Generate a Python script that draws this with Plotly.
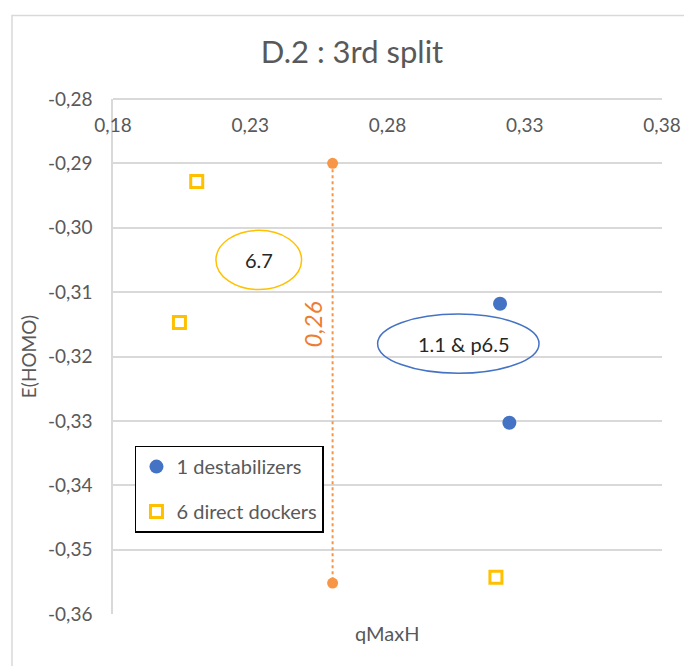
import plotly.graph_objects as go

# ---- data ----
destab_x = [0.3210, 0.3244]
destab_y = [-0.3118, -0.3303]
docker_x = [0.2105, 0.2042, 0.3195]
docker_y = [-0.2928, -0.3147, -0.3543]
split_x = [0.26, 0.26]
split_y = [-0.29, -0.3552]
split_label = "0,26"
x_ticks = [0.18, 0.23, 0.28, 0.33, 0.38]
y_ticks = [-0.28, -0.29, -0.30, -0.31, -0.32, -0.33, -0.34, -0.35, -0.36]
x_ticktext = ["0,18", "0,23", "0,28", "0,33", "0,38"]
y_ticktext = ["-0,28", "-0,29", "-0,30", "-0,31", "-0,32", "-0,33", "-0,34", "-0,35", "-0,36"]

FONT = "Lato"
GRAY = "#595959"
GRID = "#d9d9d9"

fig = go.Figure()
fig.add_trace(go.Scatter(
    x=split_x, y=split_y, mode="lines+markers", showlegend=False,
    line=dict(color="#F79646", width=2, dash="dot"),
    marker=dict(color="#F79646", size=11)))
fig.add_trace(go.Scatter(
    x=destab_x, y=destab_y, mode="markers", name="1 destabilizers",
    legendgroup="a",
    marker=dict(color="#4472C4", size=14, symbol="circle")))
fig.add_trace(go.Scatter(
    x=docker_x, y=docker_y, mode="markers", name="6 direct dockers",
    legendgroup="b",
    marker=dict(color="rgba(0,0,0,0)", size=12, symbol="square",
                line=dict(color="#FFC000", width=3))))

shapes = [
    dict(type="circle", xref="x", yref="y", x0=0.2175, x1=0.2487,
         y0=-0.3096, y1=-0.3004, line=dict(color="#FFC000", width=1.5)),
    dict(type="circle", xref="x", yref="y", x0=0.2764, x1=0.3352,
         y0=-0.3226, y1=-0.3134, line=dict(color="#4472C4", width=1.5)),
    dict(type="rect", xref="paper", yref="paper", x0=-0.184, x1=1.3,
         y0=-0.3, y1=1.162, line=dict(color=GRID, width=1.5), layer="below"),
]

annotations = [
    dict(x=0.2331, y=-0.3050, xref="x", yref="y", text="6.7", showarrow=False,
         font=dict(family=FONT, size=20, color="#262626")),
    dict(x=0.3078, y=-0.3180, xref="x", yref="y", text="1.1 & p6.5", showarrow=False,
         font=dict(family=FONT, size=20, color="#262626")),
    dict(x=0.2526, y=-0.3150, xref="x", yref="y", text="<i>" + split_label + "</i>",
         showarrow=False, textangle=-90,
         font=dict(family=FONT, size=24, color="#ED7D31")),
    dict(x=(387 - 113) / 549, y=-(633 - 614) / 515, xref="paper", yref="paper",
         text="qMaxH", showarrow=False, xanchor="center", yanchor="middle",
         font=dict(family=FONT, size=20, color=GRAY)),
]

fig.update_layout(
    width=684, height=666,
    margin=dict(l=113, r=22, t=99, b=52, autoexpand=False),
    paper_bgcolor="white", plot_bgcolor="white",
    font=dict(family=FONT, color=GRAY),
    title=dict(text="D.2 : 3rd split", x=352 / 684, xanchor="center", xref="container",
               y=1 - 52 / 666, yanchor="middle",
               font=dict(family=FONT, size=31, color=GRAY)),
    xaxis=dict(range=[0.18, 0.38], anchor="free", position=1, side="bottom",
               tickvals=x_ticks, ticktext=x_ticktext, ticks="",
               ticklabelstandoff=9, automargin=False,
               showgrid=False, zeroline=False,
               showline=True, linecolor=GRID, linewidth=1.5,
               tickfont=dict(family=FONT, size=19, color=GRAY)),
    yaxis=dict(range=[-0.36, -0.28], tickvals=y_ticks, ticktext=y_ticktext,
               showgrid=True, gridcolor=GRID, gridwidth=1.5, zeroline=False,
               showline=True, linecolor=GRID, linewidth=1.5, automargin=False,
               ticks="", ticklabelstandoff=15,
               tickfont=dict(family=FONT, size=19, color=GRAY),
               title=dict(text="E(HOMO)", standoff=6,
                          font=dict(family=FONT, size=19, color=GRAY))),
    legend=dict(x=0.040, y=0.327, xanchor="left", yanchor="top",
                bordercolor="black", borderwidth=1.5, bgcolor="white",
                tracegroupgap=16, itemwidth=30,
                font=dict(family=FONT, size=20, color=GRAY)),
    shapes=shapes, annotations=annotations,
)

fig.write_html("out.html",
               config={"displayModeBar": False},
               post_script="document.body.style.margin='0px';document.body.style.overflow='hidden';")
